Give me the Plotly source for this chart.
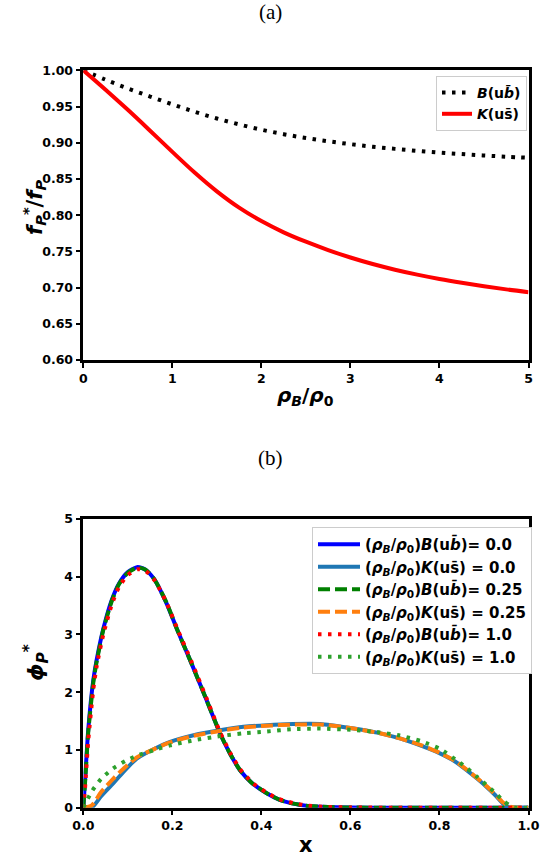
import plotly.graph_objects as go

# ---------------- data: panel (a) ----------------
rho_B = [0, 0.25, 0.5, 0.75, 1.0, 1.25, 1.5, 1.75, 2.0, 2.25, 2.5, 2.75, 3.0, 3.25, 3.5, 3.75,
         4.0, 4.25, 4.5, 4.75, 5.0]
ratio_B = [1.0, 0.987, 0.975, 0.9638, 0.953, 0.9428, 0.9335, 0.9253, 0.918, 0.9118, 0.9065,
           0.902, 0.898, 0.8945, 0.8915, 0.8888, 0.8864, 0.8843, 0.8824, 0.8807, 0.8792]
ratio_K = [1.0, 0.9732, 0.9454, 0.9166, 0.8873, 0.8588, 0.8328, 0.8103, 0.7918, 0.7763, 0.7633,
           0.7518, 0.7415, 0.7325, 0.7247, 0.7179, 0.7119, 0.7066, 0.7018, 0.6975, 0.6937]

# ---------------- data: panel (b) ----------------
x_B = [0, 0.004, 0.011, 0.0225, 0.03, 0.045, 0.064, 0.08, 0.1, 0.122, 0.14, 0.16, 0.187, 0.21,
       0.243, 0.275, 0.307, 0.33, 0.352, 0.38, 0.412, 0.44, 0.472, 0.5, 0.55, 0.6, 0.7, 0.8, 0.9, 1.0]
phi_B_00 = [0, 0.48, 1.34, 2.21, 2.56, 3.1, 3.6, 3.88, 4.08, 4.17, 4.12, 3.95, 3.54, 3.1,
            2.5, 1.9, 1.29, 0.93, 0.65, 0.42, 0.25, 0.14, 0.07, 0.035, 0.01, 0.003, 0, 0, 0, 0]
phi_B_025 = [0, 0.44, 1.3, 2.17, 2.53, 3.08, 3.58, 3.87, 4.07, 4.16, 4.12, 3.95, 3.55, 3.1,
             2.5, 1.9, 1.29, 0.93, 0.65, 0.42, 0.25, 0.14, 0.07, 0.035, 0.01, 0.003, 0, 0, 0, 0]
phi_B_10 = [0, 0.35, 1.15, 2.05, 2.45, 3.0, 3.52, 3.82, 4.03, 4.13, 4.10, 3.94, 3.55, 3.12,
            2.53, 1.93, 1.31, 0.95, 0.67, 0.43, 0.26, 0.15, 0.08, 0.04, 0.012, 0.004, 0, 0, 0, 0]

x_K = [0, 0.019, 0.04, 0.067, 0.095, 0.12, 0.16, 0.195, 0.25, 0.307, 0.36, 0.412, 0.47, 0.532,
       0.6, 0.66, 0.711, 0.76, 0.801, 0.835, 0.861, 0.885, 0.906, 0.925, 0.943, 0.958, 0.97, 1.0]
phi_K_00 = [0, 0, 0.2, 0.42, 0.66, 0.85, 1.02, 1.14, 1.26, 1.34, 1.40, 1.43, 1.45, 1.45,
            1.38, 1.3, 1.2, 1.07, 0.94, 0.8, 0.65, 0.5, 0.36, 0.22, 0.07, 0.0, 0, 0]
phi_K_025 = [0, 0.04, 0.27, 0.5, 0.71, 0.87, 1.02, 1.13, 1.25, 1.33, 1.39, 1.42, 1.44, 1.44,
             1.38, 1.3, 1.2, 1.08, 0.95, 0.81, 0.66, 0.51, 0.37, 0.23, 0.09, 0.02, 0, 0]
phi_K_10 = [0, 0.28, 0.5, 0.68, 0.81, 0.9, 1.0, 1.08, 1.17, 1.24, 1.29, 1.32, 1.36, 1.37,
            1.35, 1.31, 1.25, 1.15, 1.02, 0.84, 0.69, 0.53, 0.39, 0.26, 0.12, 0.04, 0.0, 0]

W, H = 540, 861
FONT = "DejaVu Sans"

def px(xp):
    return xp / W

def py(yp):
    return 1 - yp / H

L, R = 83.3, 528.5
A_TOP, A_BOT = 70.3, 360.0
B_TOP, B_BOT = 519.0, 807.7

DOT = "3.5px,6.5px"
DASH = "12px,5px"

fig = go.Figure()

# panel (a)
fig.add_trace(go.Scatter(x=rho_B, y=ratio_B, mode="lines", line=dict(color="black", width=4, dash=DOT, shape="spline"),
                         name="<b><i>B</i>(u<i>b̄</i>)</b>", xaxis="x", yaxis="y", legend="legend"))
fig.add_trace(go.Scatter(x=rho_B, y=ratio_K, mode="lines", line=dict(color="red", width=4, shape="spline"),
                         name="<b><i>K</i>(us̄)</b>", xaxis="x", yaxis="y", legend="legend"))

# panel (b)
pre = "<b>(<i>ρ</i><sub><i>B</i></sub>/<i>ρ</i><sub>0</sub>)"
series_b = [
    (x_B, phi_B_00, "blue", "solid", pre + "<i>B</i>(u<i>b̄</i>)= 0.0</b>"),
    (x_K, phi_K_00, "#1f77b4", "solid", pre + "<i>K</i>(us̄) = 0.0</b>"),
    (x_B, phi_B_025, "green", DASH, pre + "<i>B</i>(u<i>b̄</i>)= 0.25</b>"),
    (x_K, phi_K_025, "#ff7f0e", DASH, pre + "<i>K</i>(us̄) = 0.25</b>"),
    (x_B, phi_B_10, "red", DOT, pre + "<i>B</i>(u<i>b̄</i>)= 1.0</b>"),
    (x_K, phi_K_10, "#2ca02c", DOT, pre + "<i>K</i>(us̄) = 1.0</b>"),
]
for xs, ys, col, dash, nm in series_b:
    fig.add_trace(go.Scatter(x=xs, y=ys, mode="lines",
                             line=dict(color=col, width=4, dash=dash, shape="spline", smoothing=0.6),
                             name=nm, xaxis="x2", yaxis="y2", legend="legend2"))

axis_common = dict(showline=True, linecolor="black", linewidth=2.5, mirror=True,
                   ticks="outside", ticklen=5, tickwidth=1.5, tickcolor="black",
                   showgrid=False, zeroline=False,
                   tickfont=dict(family=FONT, size=12.5, color="black", weight="bold"))

fig.update_layout(
    width=W, height=H, margin=dict(l=0, r=0, t=0, b=0, autoexpand=False),
    paper_bgcolor="white", plot_bgcolor="white",
    font=dict(family=FONT, color="black"),
    xaxis=dict(domain=[px(L), px(R)], range=[0, 5], tickvals=[0, 1, 2, 3, 4, 5], anchor="y", **axis_common),
    yaxis=dict(domain=[py(A_BOT), py(A_TOP)], range=[0.60, 1.00],
               tickvals=[0.60, 0.65, 0.70, 0.75, 0.80, 0.85, 0.90, 0.95, 1.00], tickformat=".2f",
               anchor="x", **axis_common),
    xaxis2=dict(domain=[px(L), px(R)], range=[0, 1], tickvals=[0, 0.2, 0.4, 0.6, 0.8, 1.0], tickformat=".1f",
                anchor="y2", **axis_common),
    yaxis2=dict(domain=[py(B_BOT), py(B_TOP)], range=[0, 5], tickvals=[0, 1, 2, 3, 4, 5],
                anchor="x2", **axis_common),
    legend=dict(x=px(527), y=py(76), xanchor="right", yanchor="top",
                bgcolor="white", bordercolor="#cccccc", borderwidth=1,
                font=dict(family=FONT, size=14, color="black"), itemwidth=30,
                tracegroupgap=0),
    legend2=dict(x=px(532), y=py(527), xanchor="right", yanchor="top",
                 bgcolor="white", bordercolor="#cccccc", borderwidth=1,
                 font=dict(family=FONT, size=15, color="black"), itemwidth=42,
                 tracegroupgap=0),
    showlegend=True,
)

annos = [
    dict(text="(a)", x=0.5, y=py(12), font=dict(family="Liberation Serif", size=21)),
    dict(text="(b)", x=0.5, y=py(458), font=dict(family="Liberation Serif", size=21)),
    dict(text="<b><i>ρ</i><sub><i>B</i></sub>/<i>ρ</i><sub>0</sub></b>", x=px((L + R) / 2), y=py(396),
         font=dict(family=FONT, size=20)),
    dict(text="<b><i>f</i><sub><i>P</i></sub><sup>*</sup>/<i>f</i><sub><i>P</i></sub></b>", x=px(34), y=py(208),
         textangle=-90, font=dict(family=FONT, size=21)),
    dict(text="<b>x</b>", x=px((L + R) / 2), y=py(845), font=dict(family=FONT, size=21)),
    dict(text="<b><i>ϕ</i><sub><i>P</i></sub><sup>*</sup></b>", x=px(36), y=py(663),
         textangle=-90, font=dict(family=FONT, size=22)),
]
for a in annos:
    fig.add_annotation(xref="paper", yref="paper", showarrow=False, xanchor="center", yanchor="middle",
                       font_color="black", **a)

fig.write_html("out.html", config={"displayModeBar": False},
               post_script="document.body.style.margin='0px';document.body.style.padding='0px';"
                           "document.body.style.overflow='hidden';")
